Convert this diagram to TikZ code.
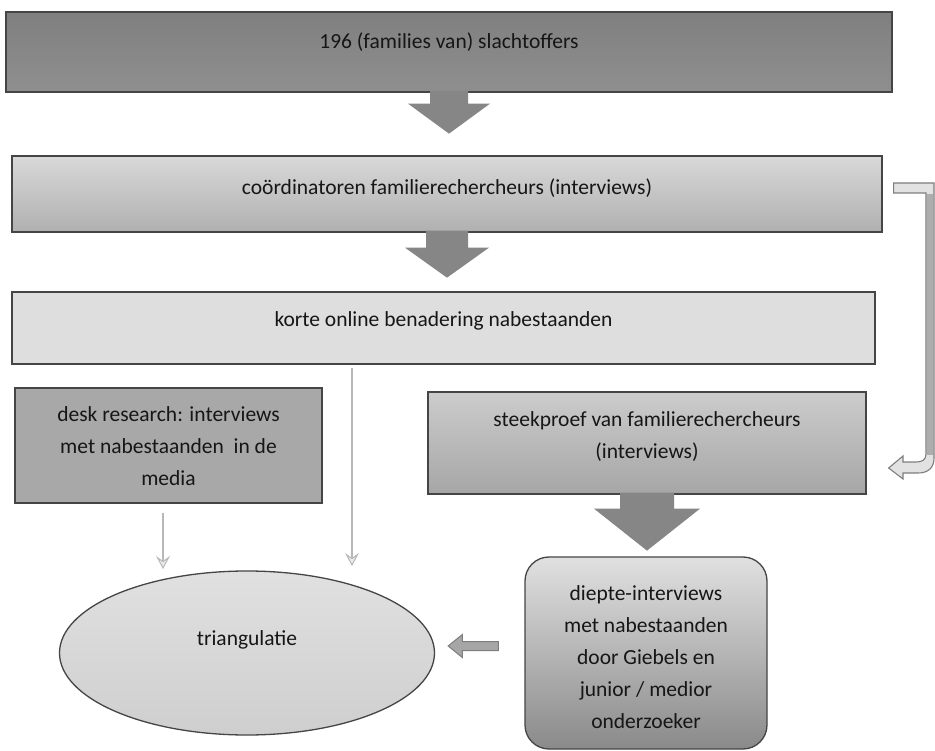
\documentclass[tikz,border=0pt]{standalone}
\usepackage{fontspec}
\setmainfont{Carlito}
\usetikzlibrary{calc,arrows.meta,shapes.geometric}
\definecolor{txt}{HTML}{161616}
\definecolor{bordc}{HTML}{454545}
\definecolor{arrowc}{HTML}{868686}
\definecolor{hollowc}{HTML}{7E7E7E}
\definecolor{hollowf}{HTML}{E2E2E2}
\tikzset{
  box/.style={rectangle, draw=bordc, line width=1.3pt, inner sep=0pt},
  lbl/.style={text=txt, align=center, font=\fontsize{21.5}{32}\selectfont, inner sep=0pt},
  thinarrow/.style={draw=black!28, line width=2.6pt,
     -{Stealth[length=13pt,width=14pt,inset=5pt,open,line width=1pt,fill=black!8]}},
  blockfill/.style={fill=arrowc},
}
\newcommand{\blockarrow}[5]{%
  \begin{scope}[shift={(#1)}]
    \fill[blockfill] (-#2,-2) -- (-#2,#4) -- (-#3,#4) -- (0,{#4+#5}) -- (#3,#4) -- (#2,#4) -- (#2,-2) -- cycle;
  \end{scope}}
\begin{document}
\begin{tikzpicture}[x=1pt,y=-1pt]
\useasboundingbox (0,0) rectangle (935,751);
\fill[white] (0,0) rectangle (935,751);

% boxes
\node[box, top color=black!50, bottom color=black!44, minimum width=886pt, minimum height=80pt] (b1) at (449,52) {};
\node[lbl] (t1) at (449,42) {196 (families van) slachtoffers};

\node[box, top color=black!15, bottom color=black!31, minimum width=870pt, minimum height=76pt] (b2) at (447,194) {};
\node[lbl] (t2) at (447,188) {coördinatoren familierechercheurs (interviews)};

\node[box, fill=black!13, minimum width=863pt, minimum height=72pt] (b3) at (443.5,328) {};
\node[lbl] (t3) at (443.5,321) {korte online benadering nabestaanden};

\node[box, fill=black!34, minimum width=307pt, minimum height=115pt] (desk) at (168.5,445.5) {};
\node[lbl] (t4) at (168.5,446) {desk research: interviews\\met nabestaanden\ \ in de\\media};

\node[box, top color=black!20, bottom color=black!35, minimum width=438pt, minimum height=102pt] (steek) at (647,443) {};
\node[lbl] (t5) at (647,437) {steekproef van familierechercheurs\\(interviews)};

\node[box, rounded corners=24pt, top color=black!12, bottom color=black!46, minimum width=242pt, minimum height=192pt] (diep) at (646,653) {};
\node[lbl] (t6) at (646,657) {diepte-interviews\\met nabestaanden\\door Giebels en\\junior / medior\\onderzoeker};

\node[ellipse, draw=bordc, line width=1.3pt, top color=black!12, bottom color=black!19, minimum width=375pt, minimum height=164pt, inner sep=0pt] (tri) at (247,653) {};
\node[lbl] (t7) at (247,640) {triangulatie};

% block arrows
\blockarrow{b1.south}{19}{41}{11}{30}
\blockarrow{b2.south}{21}{42}{15}{30}
\blockarrow{steek.south}{27}{53}{14}{42}

% hollow bracket connector from coordinators to steekproef
\coordinate (r0) at ($(b2.east)+(11,-11)$);
\coordinate (r1) at ($(steek.east)+(22,25)$);
\filldraw[draw=hollowc, line width=1.1pt, fill=hollowf]
  (r0) -- (r0 -| 934,0) -- (934,458)
  .. controls (934,468) and (928,473) .. (918,473) -- (903,473) -- (903,479)
  -- (r1) -- (903,456) -- (903,462) -- (916,462)
  .. controls (922,462) and (926,460) .. (926,454) -- (926,193) -- ($(r0)+(0,10)$) -- cycle;
\fill[black!32] (927,194) rectangle (933,455);

% thin arrows
\coordinate (a1) at (163,569);
\coordinate (a2) at (352,566);
\draw[thinarrow] ([yshift=-9pt]desk.south -| a1) -- (a1);
\draw[thinarrow] ([yshift=-3pt]b3.south -| a2) -- (a2);

% small arrow from diepte to triangulatie
\coordinate (s0) at ($(diep.west)+(-26,-7)$);
\filldraw[draw=hollowc, line width=1pt, fill=black!35]
  (s0) ++(0,-4.5) -- ++(-36,0) -- ++(0,-7) -- ($(tri.east)+(13,-7)$) -- ($(s0)+(-36,11.5)$) -- ++(0,-7) -- ($(s0)+(0,4.5)$) -- cycle;
\end{tikzpicture}
\end{document}
